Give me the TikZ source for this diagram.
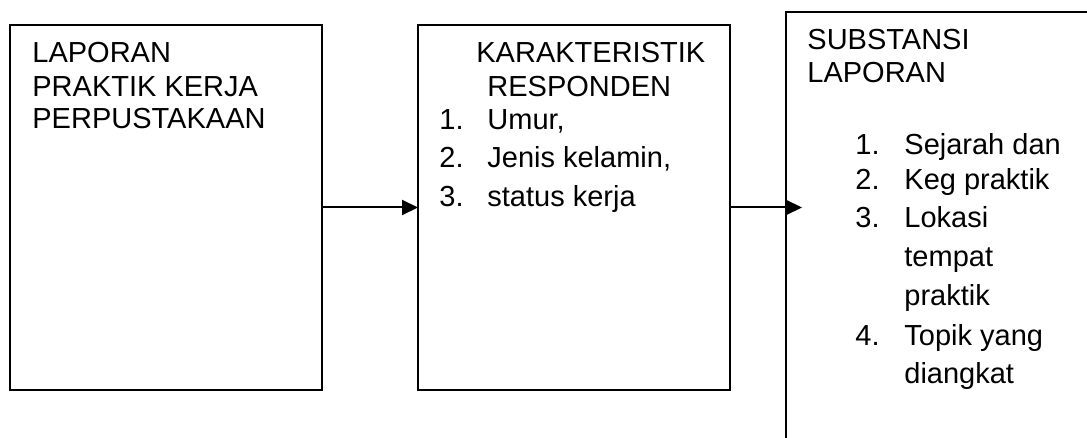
\documentclass[tikz,border=0pt]{standalone}
\usepackage{fontspec}
\setmainfont{Liberation Sans}
\usepackage{tikz}
\usetikzlibrary{arrows.meta}

\tikzset{
  kotak/.style={draw, line width=1pt, inner sep=0pt, outer sep=0pt, anchor=north west},
  teks/.style={anchor=base west, inner sep=0pt, font=\fontsize{14.5}{16.5}\selectfont},
  panah/.style={line width=1pt, -{Triangle[length=8pt,width=7.5pt]}},
}

\begin{document}
\begin{tikzpicture}[x=0.5pt, y=-0.5pt]
    \useasboundingbox (0,0) rectangle (1087,438);
    \clip (0,0) rectangle (1087,438);

    % Kotak 1 : laporan
    \node[kotak, minimum width=156pt, minimum height=182.5pt] (laporan) at (10,25) {};
    \node[teks] (lap1) at (32,63) {LAPORAN};
    \node[teks] (lap2) at (32,97) {PRAKTIK KERJA};
    \node[teks] (lap3) at (32,129) {PERPUSTAKAAN};

    % Kotak 2 : karakteristik responden
    \node[kotak, minimum width=156pt, minimum height=182.5pt] (resp) at (418,25) {};
    \node[teks] (kar1) at (476,63) {KARAKTERISTIK};
    \node[teks] (kar2) at (487,97) {RESPONDEN};
    \node[teks] (kn1) at (439,130) {1.};
    \node[teks] (ki1) at (487,130) {Umur,};
    \node[teks] (kn2) at (439,168) {2.};
    \node[teks] (ki2) at (487,168) {Jenis kelamin,};
    \node[teks] (kn3) at (439,207) {3.};
    \node[teks] (ki3) at (487,207) {status kerja};

    % Kotak 3 : substansi laporan (terpotong di kanan dan bawah)
    \node[kotak, minimum width=160pt, minimum height=220pt] (subs) at (786,12) {};
    \node[teks] (sub1) at (807,50) {SUBSTANSI};
    \node[teks] (sub2) at (807,83) {LAPORAN};
    \node[teks] (sn1) at (855,155) {1.};
    \node[teks] (si1) at (904,155) {Sejarah dan};
    \node[teks] (sn2) at (855,190) {2.};
    \node[teks] (si2) at (904,190) {Keg praktik};
    \node[teks] (sn3) at (855,228) {3.};
    \node[teks] (si3a) at (904,228) {Lokasi};
    \node[teks] (si3b) at (904,267) {tempat};
    \node[teks] (si3c) at (904,306) {praktik};
    \node[teks] (sn4) at (855,345) {4.};
    \node[teks] (si4a) at (904,345) {Topik yang};
    \node[teks] (si4b) at (904,383) {diangkat};

    % Panah
    \draw[panah] (laporan.east) -- (resp.west);
    \draw[panah, shorten >=-8pt] (resp.east) -- (resp.east -| subs.west);
\end{tikzpicture}
\end{document}
